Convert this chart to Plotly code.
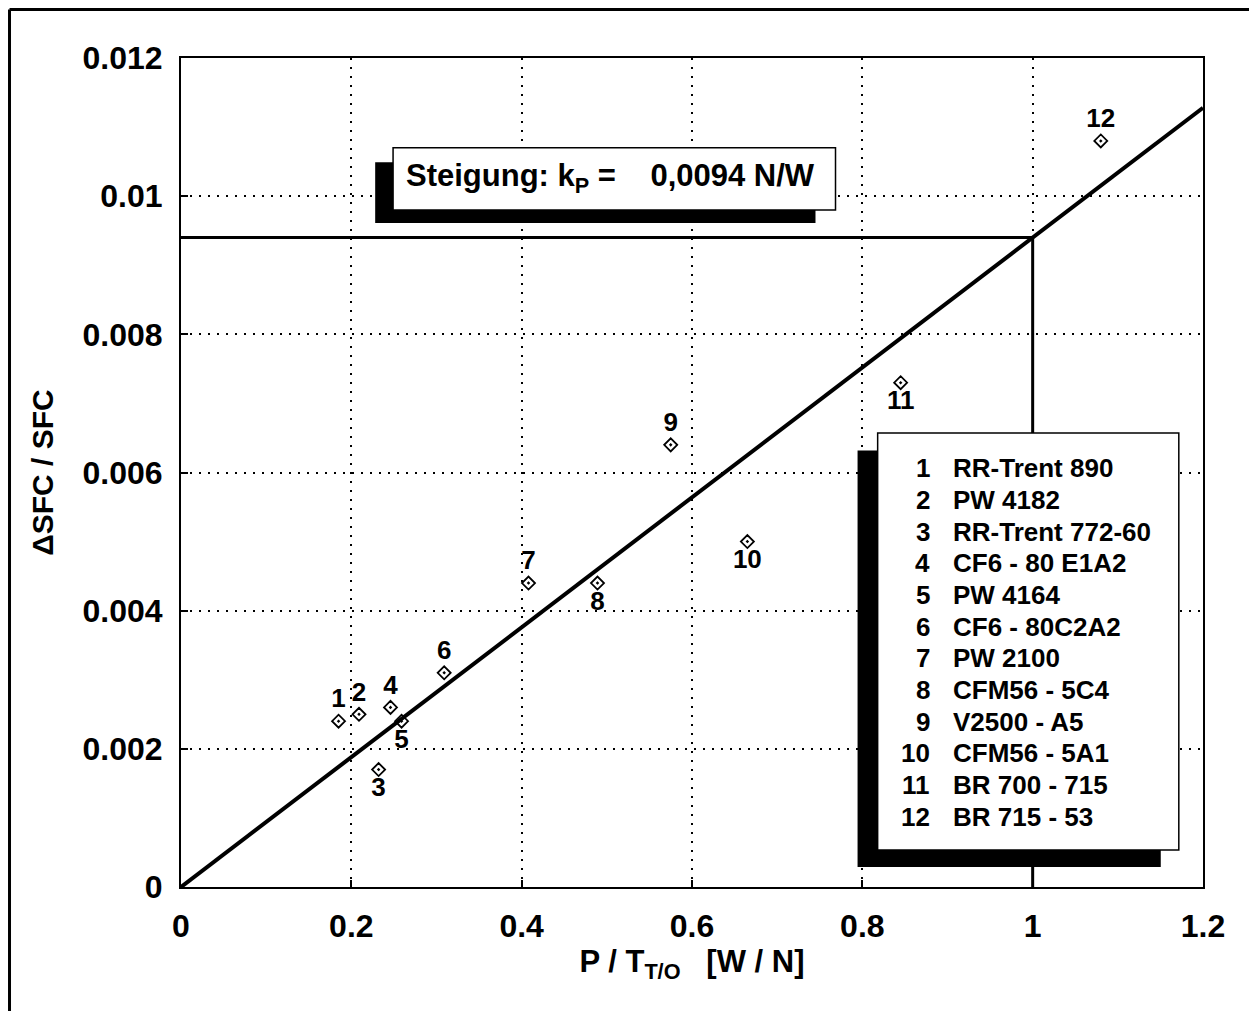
import plotly.graph_objects as go

# engine data
engine_no = ["1", "2", "3", "4", "5", "6", "7", "8", "9", "10", "11", "12"]
engine_names = ["RR-Trent 890", "PW 4182", "RR-Trent 772-60", "CF6 - 80 E1A2",
                "PW 4164", "CF6 - 80C2A2", "PW 2100", "CFM56 - 5C4",
                "V2500 - A5", "CFM56 - 5A1", "BR 700 - 715", "BR 715 - 53"]
p_over_t = [0.185, 0.209, 0.232, 0.246, 0.259, 0.309, 0.408, 0.489,
            0.575, 0.665, 0.845, 1.080]
dsfc = [0.0024, 0.0025, 0.0017, 0.0026, 0.0024, 0.0031, 0.0044, 0.0044,
        0.0064, 0.0050, 0.0073, 0.0108]
k_p = 0.0094
x_fit = [0, 1.2]
x_ticks = [0, 0.2, 0.4, 0.6, 0.8, 1.0, 1.2]
y_ticks = [0, 0.002, 0.004, 0.006, 0.008, 0.010, 0.012]

FONT = "Liberation Sans, Arial, sans-serif"
below = {"3", "5", "8", "10", "11"}

fig = go.Figure()

# regression line
fig.add_trace(go.Scatter(
    x=x_fit, y=[k_p * x for x in x_fit], mode="lines",
    line=dict(color="black", width=4), hoverinfo="skip"))

# reading lines at P/T = 1
fig.add_trace(go.Scatter(
    x=[0, 1, 1], y=[k_p, k_p, 0], mode="lines",
    line=dict(color="black", width=3), hoverinfo="skip"))

# engine points
fig.add_trace(go.Scatter(
    x=p_over_t, y=dsfc, mode="markers+text", text=engine_no,
    textposition=["bottom center" if n in below else "top center" for n in engine_no],
    textfont=dict(family=FONT, size=26, color="black", weight="bold"),
    marker=dict(symbol="diamond-open-dot", size=10, color="black",
                line=dict(width=1.8, color="black")),
    hovertext=engine_names))

# Steigung box with shadow
fig.add_shape(type="rect", x0=0.228, x1=0.745, y0=0.00961, y1=0.01049,
              fillcolor="black", line=dict(width=0), layer="above")
fig.add_shape(type="rect", x0=0.249, x1=0.7685, y0=0.0098, y1=0.0107,
              fillcolor="white", line=dict(color="black", width=1.5), layer="above")
fig.add_annotation(x=0.504, y=0.01026, xref="x", yref="y", showarrow=False,
                   text="Steigung:&nbsp;k<sub>P</sub>&nbsp;=&nbsp;&nbsp;&nbsp;&nbsp;0,0094 N/W",
                   font=dict(family=FONT, size=31, color="black", weight="bold"))

# legend box with shadow
fig.add_shape(type="rect", x0=0.7944, x1=1.1504, y0=0.00029, y1=0.00632,
              fillcolor="black", line=dict(width=0), layer="above")
fig.add_shape(type="rect", x0=0.818, x1=1.1716, y0=0.000535, y1=0.00657,
              fillcolor="white", line=dict(color="black", width=1.5), layer="above")
row_y0, row_step = 0.006064, 0.000459
for i, (n, name) in enumerate(zip(engine_no, engine_names)):
    y = row_y0 - i * row_step
    fig.add_annotation(x=0.882, y=y, xref="x", yref="y", text=n, showarrow=False,
                       xanchor="right", font=dict(family=FONT, size=26, color="black", weight="bold"))
    fig.add_annotation(x=0.904, y=y, xref="x", yref="y", text=name, showarrow=False,
                       xanchor="left", font=dict(family=FONT, size=26, color="black", weight="bold"))

# page frame (top and left edge of the figure)
fig.add_shape(type="line", xref="paper", yref="paper", x0=-0.1678, x1=1.07, y0=1.0585, y1=1.0585,
              line=dict(color="black", width=3))
fig.add_shape(type="line", xref="paper", yref="paper", x0=-0.1678, x1=-0.1678, y0=1.0585, y1=-0.17,
              line=dict(color="black", width=3))

axis_common = dict(
    showline=True, linecolor="black", linewidth=2, mirror=True,
    showgrid=True, gridcolor="black", gridwidth=2, griddash="2px,7px",
    ticks="inside", ticklen=7, tickcolor="black", tickwidth=2,
    tickfont=dict(family=FONT, size=32, color="black", weight="bold"),
    zeroline=False,
)
fig.update_xaxes(range=[0, 1.2], tickvals=x_ticks,
                 ticktext=["0", "0.2", "0.4", "0.6", "0.8", "1", "1.2"],
                 ticklabelstandoff=10,
                 title=dict(text="P / T<sub>T/O</sub>&nbsp;&nbsp;&nbsp;[W / N]", standoff=0,
                            font=dict(family=FONT, size=31, color="black", weight="bold")),
                 **axis_common)
fig.update_yaxes(range=[0, 0.012], tickvals=y_ticks,
                 ticktext=["0", "0.002", "0.004", "0.006", "0.008", "0.01", "0.012"],
                 ticklabelstandoff=10,
                 title=dict(text="ΔSFC / SFC", standoff=20,
                            font=dict(family=FONT, size=30, color="black", weight="bold")),
                 **axis_common)

fig.update_layout(
    width=1257, height=1011,
    margin=dict(l=173, r=62, t=50, b=132),
    paper_bgcolor="white", plot_bgcolor="white",
    showlegend=False,
)

fig.write_html("out.html")
